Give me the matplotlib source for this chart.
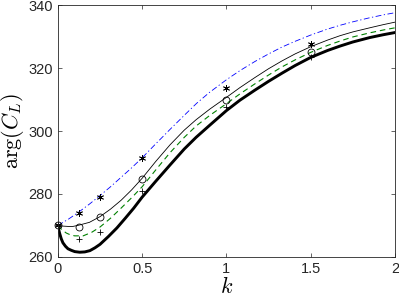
import matplotlib
matplotlib.use("Agg")
import matplotlib.pyplot as plt

plt.rcParams['mathtext.fontset'] = 'cm'
plt.rcParams['font.family'] = ['Liberation Sans', 'DejaVu Sans']

# curves (k, arg C_L in degrees)
k_blue = [0, 0.0625, 0.125, 0.1875, 0.25, 0.3125, 0.375, 0.4375, 0.5, 0.58, 0.665, 0.75,
          0.823, 0.9, 1.0, 1.08, 1.169, 1.25, 1.33, 1.407, 1.5, 1.6, 1.674, 1.75, 1.85, 1.93, 2.0]
v_blue = [270, 272.0, 274.3, 276.8, 279.5, 282.3, 285.3, 288.3, 291.5, 295.9, 300.5, 305.0,
          308.8, 312.3, 316.3, 319.2, 322.1, 324.5, 326.7, 328.5, 330.5, 332.4, 333.6, 334.7, 336.0, 336.9, 337.6]

k_thin = [0, 0.03, 0.06, 0.09, 0.125, 0.1875, 0.25, 0.3125, 0.375, 0.4375, 0.5, 0.58, 0.665, 0.75,
          0.82, 0.902, 1.0, 1.08, 1.169, 1.25, 1.33, 1.407, 1.5, 1.6, 1.674, 1.75, 1.85, 1.93, 2.0]
v_thin = [270, 269.8, 269.7, 269.7, 270.1, 271.0, 272.8, 275.2, 278.0, 281.3, 285.0, 290.3, 295.6, 300.3,
          303.6, 307.0, 310.7, 313.8, 317.0, 319.8, 322.3, 324.5, 326.8, 328.9, 330.3, 331.5, 332.8, 333.8, 334.6]

k_green = [0, 0.025, 0.05, 0.075, 0.1, 0.15, 0.2, 0.25, 0.3125, 0.375, 0.4375, 0.5, 0.58, 0.665, 0.75,
           0.82, 0.902, 1.0, 1.08, 1.169, 1.25, 1.33, 1.407, 1.5, 1.6, 1.674, 1.75, 1.85, 1.93, 2.0]
v_green = [270, 268.6, 267.6, 267.0, 266.7, 266.7, 267.8, 269.5, 272.3, 275.5, 278.8, 282.3, 287.6, 293.1, 298.0,
           301.6, 305.0, 308.7, 311.8, 315.0, 317.8, 320.4, 322.6, 325.0, 327.2, 328.6, 329.9, 331.2, 332.1, 332.8]

k_thick = [0, 0.005, 0.01, 0.02, 0.03, 0.045, 0.06, 0.08, 0.1, 0.13, 0.16, 0.19, 0.22, 0.25, 0.3, 0.35,
           0.4, 0.45, 0.5, 0.58, 0.665, 0.75, 0.82, 0.902, 1.0, 1.08, 1.169, 1.25, 1.33, 1.407, 1.5,
           1.6, 1.674, 1.75, 1.85, 1.93, 2.0]
v_thick = [270, 268.7, 267.6, 265.8, 264.5, 263.4, 262.6, 262.1, 261.7, 261.5, 261.6, 262.0, 262.9, 264.0, 266.5, 269.2,
           272.3, 275.5, 279.0, 284.0, 289.2, 294.3, 298.0, 301.9, 306.5, 309.8, 313.0, 315.8, 318.4, 320.8, 323.4,
           325.6, 327.0, 328.3, 329.7, 330.6, 331.3]

# discrete points
k_pts = [0, 0.125, 0.25, 0.5, 1, 1.5]
v_star = [270, 274.1, 278.9, 291.4, 313.8, 327.5]
v_circ = [270, 269.4, 272.6, 284.9, 309.8, 325.0]
v_plus = [270, 265.8, 268.0, 281.0, 307.5, 323.6]

fig = plt.figure(figsize=(3.99, 3.03), dpi=100)
ax = fig.add_axes([0.145, 0.152, 0.845, 0.831])

ax.plot(k_blue, v_blue, color='blue', lw=0.6, dashes=[7, 3, 1.5, 3])
ax.plot(k_thin, v_thin, '-', color='black', lw=0.6)
ax.plot(k_green, v_green, color=(0, 0.5, 0), lw=0.8, dashes=[5, 3.5])
ax.plot(k_thick, v_thick, '-', color='black', lw=2.1)

# markers sit on the y axis at k=0, so don't clip them
ax.plot(k_pts, v_star, ls='none', marker=(6, 2, 0), ms=5, mec='black', mew=0.6, clip_on=False)
ax.plot(k_pts, v_circ, ls='none', marker='o', ms=5, mfc='none', mec='black', mew=0.6, clip_on=False)
ax.plot(k_pts, v_plus, ls='none', marker='+', ms=5, mec='black', mew=0.6, clip_on=False)

ax.set_xlim(0, 2)
ax.set_ylim(260, 340)
ax.set_xticks([0, 0.5, 1, 1.5, 2])
ax.set_xticklabels(['0', '0.5', '1', '1.5', '2'])
ax.set_yticks([260, 280, 300, 320, 340])
ax.tick_params(direction='in', top=True, right=True, length=3, width=0.5,
               labelsize=10.5, colors=(0.15, 0.15, 0.15))
for s in ax.spines.values():
    s.set_linewidth(0.6)
    s.set_color((0.15, 0.15, 0.15))

ax.set_xlabel(r'$k$', fontsize=16, labelpad=1)
ax.set_ylabel(r'$\arg(C_L)$', fontsize=16, labelpad=2)

fig.savefig('out.png', dpi=100)
